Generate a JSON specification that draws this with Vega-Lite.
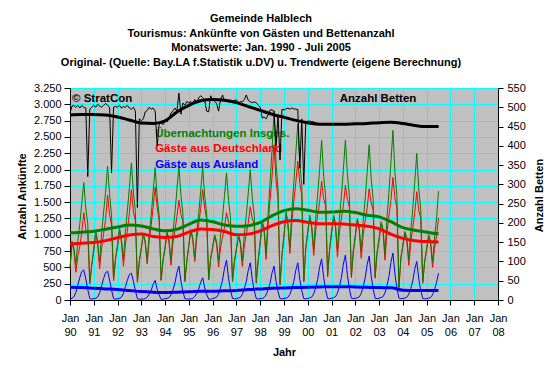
{
"$schema":"https://vega.github.io/schema/vega-lite/v6.json",
"width":428,"height":212,
"autosize":{"type":"none"},
"padding":{"left":70,"top":88,"right":62,"bottom":74},
"background":"white",
"config":{"font":"Liberation Sans","view":{"fill":"#C0C0C0","stroke":"#808080","strokeWidth":1},
"axis":{"labelFont":"Liberation Sans","titleFont":"Liberation Sans","labelFontSize":11,"labelColor":"black","titleColor":"black","titleFontSize":11,"titleFontWeight":"bold","domainColor":"black","tickColor":"black","gridColor":"#00FFFF","gridOpacity":1,"gridWidth":1}},
"title":{"text":["Gemeinde Halblech","Tourismus: Ankünfte von Gästen und Bettenanzahl","Monatswerte: Jan. 1990 - Juli 2005","Original- (Quelle: Bay.LA f.Statistik u.DV) u. Trendwerte (eigene Berechnung)"],"font":"Liberation Sans","fontSize":11,"fontWeight":"bold","color":"black","lineHeight":14.7,"anchor":"middle","frame":"group","dx":-23,"offset":14},
"datasets":{
"m":[
{"d":"1990-01","g":500,"r":477,"b":23,"k":485},{"d":"1990-02","g":900,"r":872,"b":28,"k":503},{"d":"1990-03","g":810,"r":764,"b":46,"k":505},{"d":"1990-04","g":540,"r":425,"b":115,"k":500},{"d":"1990-05","g":900,"r":670,"b":230,"k":505},{"d":"1990-06","g":1170,"r":825,"b":345,"k":498},{"d":"1990-07","g":1480,"r":1043,"b":437,"k":505},{"d":"1990-08","g":1800,"r":1340,"b":460,"k":500},{"d":"1990-09","g":1400,"r":1078,"b":322,"k":498},{"d":"1990-10","g":1170,"r":1009,"b":161,"k":320},{"d":"1990-11","g":270,"r":247,"b":23,"k":495},{"d":"1990-12","g":540,"r":526,"b":14,"k":500},
{"d":"1991-01","g":780,"r":758,"b":22,"k":505},{"d":"1991-02","g":1060,"r":1034,"b":26,"k":500},{"d":"1991-03","g":900,"r":856,"b":44,"k":508},{"d":"1991-04","g":590,"r":480,"b":110,"k":503},{"d":"1991-05","g":1010,"r":790,"b":220,"k":500},{"d":"1991-06","g":1350,"r":1020,"b":330,"k":505},{"d":"1991-07","g":1650,"r":1232,"b":418,"k":510},{"d":"1991-08","g":2050,"r":1610,"b":440,"k":505},{"d":"1991-09","g":1620,"r":1312,"b":308,"k":500},{"d":"1991-10","g":1300,"r":1146,"b":154,"k":330},{"d":"1991-11","g":320,"r":298,"b":22,"k":500},{"d":"1991-12","g":640,"r":627,"b":13,"k":502},
{"d":"1992-01","g":840,"r":820,"b":20,"k":500},{"d":"1992-02","g":1100,"r":1075,"b":25,"k":505},{"d":"1992-03","g":930,"r":889,"b":41,"k":498},{"d":"1992-04","g":620,"r":518,"b":102,"k":502},{"d":"1992-05","g":1060,"r":855,"b":205,"k":500},{"d":"1992-06","g":1380,"r":1072,"b":308,"k":505},{"d":"1992-07","g":1720,"r":1330,"b":390,"k":498},{"d":"1992-08","g":2100,"r":1690,"b":410,"k":495},{"d":"1992-09","g":1640,"r":1353,"b":287,"k":500},{"d":"1992-10","g":1360,"r":1217,"b":143,"k":490},{"d":"1992-11","g":290,"r":270,"b":20,"k":240},{"d":"1992-12","g":600,"r":588,"b":12,"k":470},
{"d":"1993-01","g":800,"r":788,"b":12,"k":465},{"d":"1993-02","g":1020,"r":1005,"b":15,"k":470},{"d":"1993-03","g":900,"r":879,"b":21,"k":488},{"d":"1993-04","g":600,"r":555,"b":45,"k":492},{"d":"1993-05","g":1000,"r":910,"b":90,"k":500},{"d":"1993-06","g":1300,"r":1150,"b":150,"k":495},{"d":"1993-07","g":1660,"r":1420,"b":240,"k":498},{"d":"1993-08","g":2030,"r":1730,"b":300,"k":490},{"d":"1993-09","g":1580,"r":1415,"b":165,"k":400},{"d":"1993-10","g":1300,"r":1225,"b":75,"k":455},{"d":"1993-11","g":310,"r":298,"b":12,"k":460},{"d":"1993-12","g":620,"r":611,"b":9,"k":455},
{"d":"1994-01","g":820,"r":799,"b":21,"k":465},{"d":"1994-02","g":1040,"r":1014,"b":26,"k":462},{"d":"1994-03","g":920,"r":884,"b":36,"k":472},{"d":"1994-04","g":610,"r":532,"b":78,"k":485},{"d":"1994-05","g":1030,"r":874,"b":156,"k":490},{"d":"1994-06","g":1330,"r":1070,"b":260,"k":498},{"d":"1994-07","g":1690,"r":1274,"b":416,"k":490},{"d":"1994-08","g":2050,"r":1530,"b":520,"k":537},{"d":"1994-09","g":1600,"r":1314,"b":286,"k":482},{"d":"1994-10","g":1330,"r":1200,"b":130,"k":511},{"d":"1994-11","g":300,"r":279,"b":21,"k":505},{"d":"1994-12","g":610,"r":594,"b":16,"k":515},
{"d":"1995-01","g":850,"r":836,"b":14,"k":511},{"d":"1995-02","g":1080,"r":1063,"b":17,"k":515},{"d":"1995-03","g":950,"r":926,"b":24,"k":510},{"d":"1995-04","g":640,"r":589,"b":51,"k":520},{"d":"1995-05","g":1040,"r":938,"b":102,"k":512},{"d":"1995-06","g":1330,"r":1160,"b":170,"k":524},{"d":"1995-07","g":1670,"r":1398,"b":272,"k":530},{"d":"1995-08","g":2030,"r":1690,"b":340,"k":525},{"d":"1995-09","g":1590,"r":1403,"b":187,"k":518},{"d":"1995-10","g":1330,"r":1245,"b":85,"k":490},{"d":"1995-11","g":320,"r":306,"b":14,"k":488},{"d":"1995-12","g":640,"r":630,"b":10,"k":530},
{"d":"1996-01","g":820,"r":796,"b":24,"k":520},{"d":"1996-02","g":1000,"r":969,"b":31,"k":515},{"d":"1996-03","g":900,"r":857,"b":43,"k":510},{"d":"1996-04","g":600,"r":508,"b":92,"k":490},{"d":"1996-05","g":980,"r":797,"b":183,"k":520},{"d":"1996-06","g":1270,"r":965,"b":305,"k":532},{"d":"1996-07","g":1600,"r":1112,"b":488,"k":516},{"d":"1996-08","g":1950,"r":1340,"b":610,"k":518},{"d":"1996-09","g":1530,"r":1194,"b":336,"k":514},{"d":"1996-10","g":1270,"r":1117,"b":153,"k":519},{"d":"1996-11","g":300,"r":276,"b":24,"k":515},{"d":"1996-12","g":600,"r":582,"b":18,"k":518},
{"d":"1997-01","g":800,"r":777,"b":23,"k":519},{"d":"1997-02","g":1000,"r":971,"b":29,"k":511},{"d":"1997-03","g":900,"r":860,"b":40,"k":515},{"d":"1997-04","g":600,"r":514,"b":86,"k":514},{"d":"1997-05","g":1000,"r":829,"b":171,"k":520},{"d":"1997-06","g":1300,"r":1015,"b":285,"k":532},{"d":"1997-07","g":1640,"r":1184,"b":456,"k":518},{"d":"1997-08","g":2000,"r":1430,"b":570,"k":514},{"d":"1997-09","g":1560,"r":1246,"b":314,"k":512},{"d":"1997-10","g":1300,"r":1157,"b":143,"k":514},{"d":"1997-11","g":280,"r":257,"b":23,"k":512},{"d":"1997-12","g":620,"r":603,"b":17,"k":505},
{"d":"1998-01","g":900,"r":879,"b":21,"k":500},{"d":"1998-02","g":1200,"r":1174,"b":26,"k":472},{"d":"1998-03","g":1100,"r":1064,"b":36,"k":475},{"d":"1998-04","g":700,"r":622,"b":78,"k":470},{"d":"1998-05","g":1300,"r":1144,"b":156,"k":480},{"d":"1998-06","g":1800,"r":1540,"b":260,"k":493},{"d":"1998-07","g":2300,"r":1884,"b":416,"k":493},{"d":"1998-08","g":2900,"r":2380,"b":520,"k":490},{"d":"1998-09","g":2100,"r":1814,"b":286,"k":400},{"d":"1998-10","g":1700,"r":1570,"b":130,"k":480},{"d":"1998-11","g":250,"r":229,"b":21,"k":363},{"d":"1998-12","g":700,"r":684,"b":16,"k":495},
{"d":"1999-01","g":1000,"r":977,"b":23,"k":493},{"d":"1999-02","g":1350,"r":1321,"b":29,"k":496},{"d":"1999-03","g":1200,"r":1160,"b":40,"k":498},{"d":"1999-04","g":800,"r":714,"b":86,"k":495},{"d":"1999-05","g":1350,"r":1179,"b":171,"k":498},{"d":"1999-06","g":1800,"r":1515,"b":285,"k":496},{"d":"1999-07","g":2250,"r":1794,"b":456,"k":495},{"d":"1999-08","g":2700,"r":2130,"b":570,"k":494},{"d":"1999-09","g":2100,"r":1786,"b":314,"k":342},{"d":"1999-10","g":1750,"r":1607,"b":143,"k":470},{"d":"1999-11","g":300,"r":277,"b":23,"k":300},{"d":"1999-12","g":800,"r":783,"b":17,"k":462},
{"d":"2000-01","g":1050,"r":1025,"b":25,"k":464},{"d":"2000-02","g":1300,"r":1268,"b":32,"k":464},{"d":"2000-03","g":1150,"r":1106,"b":44,"k":463},{"d":"2000-04","g":780,"r":685,"b":95,"k":462},{"d":"2000-05","g":1250,"r":1061,"b":189,"k":460},{"d":"2000-06","g":1620,"r":1305,"b":315,"k":458},{"d":"2000-07","g":2000,"r":1496,"b":504,"k":457},{"d":"2000-08","g":2450,"r":1820,"b":630,"k":456},{"d":"2000-09","g":1900,"r":1553,"b":347,"k":456},{"d":"2000-10","g":1600,"r":1442,"b":158,"k":456},{"d":"2000-11","g":380,"r":355,"b":25,"k":456},{"d":"2000-12","g":780,"r":761,"b":19,"k":456},
{"d":"2001-01","g":1050,"r":1022,"b":28,"k":456},{"d":"2001-02","g":1300,"r":1265,"b":35,"k":456},{"d":"2001-03","g":1180,"r":1132,"b":48,"k":456},{"d":"2001-04","g":760,"r":656,"b":104,"k":456},{"d":"2001-05","g":1250,"r":1043,"b":207,"k":456},{"d":"2001-06","g":1600,"r":1255,"b":345,"k":456},{"d":"2001-07","g":2000,"r":1448,"b":552,"k":456},{"d":"2001-08","g":2450,"r":1760,"b":690,"k":456},{"d":"2001-09","g":1920,"r":1540,"b":380,"k":456},{"d":"2001-10","g":1600,"r":1427,"b":173,"k":456},{"d":"2001-11","g":370,"r":342,"b":28,"k":456},{"d":"2001-12","g":760,"r":739,"b":21,"k":456},
{"d":"2002-01","g":1000,"r":973,"b":27,"k":457},{"d":"2002-02","g":1250,"r":1216,"b":34,"k":457},{"d":"2002-03","g":1120,"r":1073,"b":47,"k":457},{"d":"2002-04","g":740,"r":639,"b":101,"k":457},{"d":"2002-05","g":1200,"r":997,"b":203,"k":457},{"d":"2002-06","g":1550,"r":1212,"b":338,"k":458},{"d":"2002-07","g":1950,"r":1410,"b":540,"k":458},{"d":"2002-08","g":2380,"r":1705,"b":675,"k":458},{"d":"2002-09","g":1860,"r":1489,"b":371,"k":458},{"d":"2002-10","g":1550,"r":1381,"b":169,"k":459},{"d":"2002-11","g":360,"r":333,"b":27,"k":459},{"d":"2002-12","g":740,"r":720,"b":20,"k":459},
{"d":"2003-01","g":950,"r":921,"b":29,"k":460},{"d":"2003-02","g":1200,"r":1164,"b":36,"k":460},{"d":"2003-03","g":1100,"r":1050,"b":50,"k":460},{"d":"2003-04","g":720,"r":612,"b":108,"k":461},{"d":"2003-05","g":1250,"r":1034,"b":216,"k":461},{"d":"2003-06","g":1650,"r":1290,"b":360,"k":462},{"d":"2003-07","g":2100,"r":1524,"b":576,"k":462},{"d":"2003-08","g":2600,"r":1880,"b":720,"k":461},{"d":"2003-09","g":1950,"r":1554,"b":396,"k":460},{"d":"2003-10","g":1600,"r":1420,"b":180,"k":460},{"d":"2003-11","g":200,"r":171,"b":29,"k":459},{"d":"2003-12","g":650,"r":628,"b":22,"k":459},
{"d":"2004-01","g":850,"r":826,"b":24,"k":458},{"d":"2004-02","g":1050,"r":1020,"b":30,"k":457},{"d":"2004-03","g":950,"r":909,"b":41,"k":456},{"d":"2004-04","g":620,"r":531,"b":89,"k":455},{"d":"2004-05","g":1050,"r":873,"b":177,"k":454},{"d":"2004-06","g":1400,"r":1105,"b":295,"k":453},{"d":"2004-07","g":1800,"r":1328,"b":472,"k":453},{"d":"2004-08","g":2250,"r":1660,"b":590,"k":452},{"d":"2004-09","g":1700,"r":1375,"b":325,"k":452},{"d":"2004-10","g":1400,"r":1252,"b":148,"k":451},{"d":"2004-11","g":280,"r":256,"b":24,"k":451},{"d":"2004-12","g":600,"r":582,"b":18,"k":450},
{"d":"2005-01","g":800,"r":778,"b":22,"k":450},{"d":"2005-02","g":1000,"r":972,"b":28,"k":450},{"d":"2005-03","g":900,"r":862,"b":38,"k":450},{"d":"2005-04","g":580,"r":500,"b":80,"k":450},{"d":"2005-05","g":950,"r":790,"b":160,"k":450},{"d":"2005-06","g":1250,"r":980,"b":270,"k":450},{"d":"2005-07","g":1670,"r":1260,"b":410,"k":450}
],
"t":[
{"d":"1990-01","g":1030,"r":860,"b":195,"k":480},{"d":"1990-07","g":1040,"r":870,"b":190,"k":481},{"d":"1991-01","g":1055,"r":880,"b":180,"k":481},{"d":"1991-07","g":1085,"r":910,"b":170,"k":480},
{"d":"1992-01","g":1120,"r":955,"b":160,"k":475},{"d":"1992-07","g":1150,"r":995,"b":145,"k":467},{"d":"1993-01","g":1135,"r":1010,"b":130,"k":459},{"d":"1993-07","g":1090,"r":975,"b":120,"k":458},
{"d":"1994-01","g":1060,"r":960,"b":115,"k":465},{"d":"1994-07","g":1085,"r":975,"b":120,"k":488},{"d":"1995-01","g":1160,"r":1040,"b":125,"k":505},{"d":"1995-07","g":1225,"r":1090,"b":135,"k":517},
{"d":"1996-01","g":1200,"r":1080,"b":135,"k":520},{"d":"1996-07","g":1150,"r":1050,"b":140,"k":518},{"d":"1997-01","g":1130,"r":1000,"b":145,"k":512},{"d":"1997-07","g":1140,"r":1010,"b":160,"k":502},
{"d":"1998-01","g":1190,"r":1060,"b":170,"k":492},{"d":"1998-07","g":1290,"r":1140,"b":180,"k":482},{"d":"1999-01","g":1370,"r":1200,"b":185,"k":474},{"d":"1999-07","g":1400,"r":1220,"b":190,"k":466},
{"d":"2000-01","g":1375,"r":1190,"b":195,"k":460},{"d":"2000-07","g":1345,"r":1170,"b":200,"k":456},{"d":"2001-01","g":1350,"r":1170,"b":205,"k":456},{"d":"2001-07","g":1360,"r":1165,"b":205,"k":456},
{"d":"2002-01","g":1340,"r":1150,"b":200,"k":457},{"d":"2002-07","g":1300,"r":1130,"b":195,"k":458},{"d":"2003-01","g":1275,"r":1090,"b":190,"k":460},{"d":"2003-07","g":1200,"r":1010,"b":188,"k":461},
{"d":"2004-01","g":1110,"r":945,"b":150,"k":458},{"d":"2004-07","g":1070,"r":910,"b":145,"k":453},{"d":"2005-01","g":1040,"r":895,"b":145,"k":450},{"d":"2005-07","g":1015,"r":890,"b":145,"k":450}
]},
"layer":[
{"layer":[
{"data":{"name":"m"},"mark":{"type":"line","color":"#FF0000","strokeWidth":1},"encoding":{
"x":{"field":"d","type":"temporal","scale":{"type":"utc","domain":[631152000000,1199145600000]},"axis":{"orient":"bottom","tickCount":{"interval":"year","step":1},"labelExpr":"['Jan', utcFormat(datum.value, '%y')]","grid":true,"tickSize":5,"labelPadding":7,"labelLineHeight":14,"labelFlush":false,"labelOverlap":false,"labelAlign":"center","labelBaseline":"top","title":"Jahr","titleBaseline":"middle","titleY":52}},
"y":{"field":"r","type":"quantitative","scale":{"domain":[0,3250],"nice":false},"axis":{"orient":"left","values":[0,250,500,750,1000,1250,1500,1750,2000,2250,2500,2750,3000,3250],"labelExpr":"replace(format(datum.value, ','), ',', '.')","grid":true,"tickSize":6,"labelPadding":3,"labelFlush":false,"labelOverlap":false,"title":"Anzahl Ankünfte","titleX":-48,"titleY":108,"titleAngle":270,"titleBaseline":"middle","titleAlign":"center"}}}},
{"data":{"name":"m"},"mark":{"type":"line","color":"#008000","strokeWidth":1},"encoding":{
"x":{"field":"d","type":"temporal","scale":{"type":"utc","domain":[631152000000,1199145600000]},"axis":{"orient":"bottom","tickCount":{"interval":"year","step":1},"labelExpr":"['Jan', utcFormat(datum.value, '%y')]","grid":true,"tickSize":5,"labelPadding":7,"labelLineHeight":14,"labelFlush":false,"labelOverlap":false,"labelAlign":"center","labelBaseline":"top","title":"Jahr","titleBaseline":"middle","titleY":52}},
"y":{"field":"g","type":"quantitative","scale":{"domain":[0,3250],"nice":false},"axis":{"orient":"left","values":[0,250,500,750,1000,1250,1500,1750,2000,2250,2500,2750,3000,3250],"labelExpr":"replace(format(datum.value, ','), ',', '.')","grid":true,"tickSize":6,"labelPadding":3,"labelFlush":false,"labelOverlap":false,"title":"Anzahl Ankünfte","titleX":-48,"titleY":108,"titleAngle":270,"titleBaseline":"middle","titleAlign":"center"}}}},
{"data":{"name":"m"},"mark":{"type":"line","color":"#0000FF","strokeWidth":1},"encoding":{
"x":{"field":"d","type":"temporal","scale":{"type":"utc","domain":[631152000000,1199145600000]},"axis":{"orient":"bottom","tickCount":{"interval":"year","step":1},"labelExpr":"['Jan', utcFormat(datum.value, '%y')]","grid":true,"tickSize":5,"labelPadding":7,"labelLineHeight":14,"labelFlush":false,"labelOverlap":false,"labelAlign":"center","labelBaseline":"top","title":"Jahr","titleBaseline":"middle","titleY":52}},
"y":{"field":"b","type":"quantitative","scale":{"domain":[0,3250],"nice":false},"axis":{"orient":"left","values":[0,250,500,750,1000,1250,1500,1750,2000,2250,2500,2750,3000,3250],"labelExpr":"replace(format(datum.value, ','), ',', '.')","grid":true,"tickSize":6,"labelPadding":3,"labelFlush":false,"labelOverlap":false,"title":"Anzahl Ankünfte","titleX":-48,"titleY":108,"titleAngle":270,"titleBaseline":"middle","titleAlign":"center"}}}},
{"data":{"name":"t"},"mark":{"type":"line","color":"#FF0000","strokeWidth":3,"interpolate":"monotone"},"encoding":{
"x":{"field":"d","type":"temporal","scale":{"type":"utc","domain":[631152000000,1199145600000]},"axis":{"orient":"bottom","tickCount":{"interval":"year","step":1},"labelExpr":"['Jan', utcFormat(datum.value, '%y')]","grid":true,"tickSize":5,"labelPadding":7,"labelLineHeight":14,"labelFlush":false,"labelOverlap":false,"labelAlign":"center","labelBaseline":"top","title":"Jahr","titleBaseline":"middle","titleY":52}},
"y":{"field":"r","type":"quantitative","scale":{"domain":[0,3250],"nice":false},"axis":{"orient":"left","values":[0,250,500,750,1000,1250,1500,1750,2000,2250,2500,2750,3000,3250],"labelExpr":"replace(format(datum.value, ','), ',', '.')","grid":true,"tickSize":6,"labelPadding":3,"labelFlush":false,"labelOverlap":false,"title":"Anzahl Ankünfte","titleX":-48,"titleY":108,"titleAngle":270,"titleBaseline":"middle","titleAlign":"center"}}}},
{"data":{"name":"t"},"mark":{"type":"line","color":"#008000","strokeWidth":3,"interpolate":"monotone"},"encoding":{
"x":{"field":"d","type":"temporal","scale":{"type":"utc","domain":[631152000000,1199145600000]},"axis":{"orient":"bottom","tickCount":{"interval":"year","step":1},"labelExpr":"['Jan', utcFormat(datum.value, '%y')]","grid":true,"tickSize":5,"labelPadding":7,"labelLineHeight":14,"labelFlush":false,"labelOverlap":false,"labelAlign":"center","labelBaseline":"top","title":"Jahr","titleBaseline":"middle","titleY":52}},
"y":{"field":"g","type":"quantitative","scale":{"domain":[0,3250],"nice":false},"axis":{"orient":"left","values":[0,250,500,750,1000,1250,1500,1750,2000,2250,2500,2750,3000,3250],"labelExpr":"replace(format(datum.value, ','), ',', '.')","grid":true,"tickSize":6,"labelPadding":3,"labelFlush":false,"labelOverlap":false,"title":"Anzahl Ankünfte","titleX":-48,"titleY":108,"titleAngle":270,"titleBaseline":"middle","titleAlign":"center"}}}},
{"data":{"name":"t"},"mark":{"type":"line","color":"#0000FF","strokeWidth":3,"interpolate":"monotone"},"encoding":{
"x":{"field":"d","type":"temporal","scale":{"type":"utc","domain":[631152000000,1199145600000]},"axis":{"orient":"bottom","tickCount":{"interval":"year","step":1},"labelExpr":"['Jan', utcFormat(datum.value, '%y')]","grid":true,"tickSize":5,"labelPadding":7,"labelLineHeight":14,"labelFlush":false,"labelOverlap":false,"labelAlign":"center","labelBaseline":"top","title":"Jahr","titleBaseline":"middle","titleY":52}},
"y":{"field":"b","type":"quantitative","scale":{"domain":[0,3250],"nice":false},"axis":{"orient":"left","values":[0,250,500,750,1000,1250,1500,1750,2000,2250,2500,2750,3000,3250],"labelExpr":"replace(format(datum.value, ','), ',', '.')","grid":true,"tickSize":6,"labelPadding":3,"labelFlush":false,"labelOverlap":false,"title":"Anzahl Ankünfte","titleX":-48,"titleY":108,"titleAngle":270,"titleBaseline":"middle","titleAlign":"center"}}}},
{"data":{"values":[{}]},"mark":{"type":"text","align":"left","baseline":"middle","fontSize":11.5,"fontWeight":"bold","color":"black"},"encoding":{
"x":{"datum":633830400000,"type":"temporal","axis":{"orient":"bottom","tickCount":{"interval":"year","step":1},"labelExpr":"['Jan', utcFormat(datum.value, '%y')]","grid":true,"tickSize":5,"labelPadding":7,"labelLineHeight":14,"labelFlush":false,"labelOverlap":false,"labelAlign":"center","labelBaseline":"top","title":"Jahr","titleBaseline":"middle","titleY":52}},
"y":{"datum":3081,"type":"quantitative","axis":{"orient":"left","values":[0,250,500,750,1000,1250,1500,1750,2000,2250,2500,2750,3000,3250],"labelExpr":"replace(format(datum.value, ','), ',', '.')","grid":true,"tickSize":6,"labelPadding":3,"labelFlush":false,"labelOverlap":false,"title":"Anzahl Ankünfte","titleX":-48,"titleY":108,"titleAngle":270,"titleBaseline":"middle","titleAlign":"center"}},"text":{"value":"© StratCon"}}},
{"data":{"values":[{}]},"mark":{"type":"text","align":"left","baseline":"middle","fontSize":11.5,"fontWeight":"bold","color":"black"},"encoding":{
"x":{"datum":989020800000,"type":"temporal","axis":{"orient":"bottom","tickCount":{"interval":"year","step":1},"labelExpr":"['Jan', utcFormat(datum.value, '%y')]","grid":true,"tickSize":5,"labelPadding":7,"labelLineHeight":14,"labelFlush":false,"labelOverlap":false,"labelAlign":"center","labelBaseline":"top","title":"Jahr","titleBaseline":"middle","titleY":52}},
"y":{"datum":3081,"type":"quantitative","axis":{"orient":"left","values":[0,250,500,750,1000,1250,1500,1750,2000,2250,2500,2750,3000,3250],"labelExpr":"replace(format(datum.value, ','), ',', '.')","grid":true,"tickSize":6,"labelPadding":3,"labelFlush":false,"labelOverlap":false,"title":"Anzahl Ankünfte","titleX":-48,"titleY":108,"titleAngle":270,"titleBaseline":"middle","titleAlign":"center"}},"text":{"value":"Anzahl Betten"}}},
{"data":{"values":[{}]},"mark":{"type":"text","align":"left","baseline":"middle","fontSize":11.5,"fontWeight":"bold","color":"#008000"},"encoding":{
"x":{"datum":744163200000,"type":"temporal","axis":{"orient":"bottom","tickCount":{"interval":"year","step":1},"labelExpr":"['Jan', utcFormat(datum.value, '%y')]","grid":true,"tickSize":5,"labelPadding":7,"labelLineHeight":14,"labelFlush":false,"labelOverlap":false,"labelAlign":"center","labelBaseline":"top","title":"Jahr","titleBaseline":"middle","titleY":52}},
"y":{"datum":2545,"type":"quantitative","axis":{"orient":"left","values":[0,250,500,750,1000,1250,1500,1750,2000,2250,2500,2750,3000,3250],"labelExpr":"replace(format(datum.value, ','), ',', '.')","grid":true,"tickSize":6,"labelPadding":3,"labelFlush":false,"labelOverlap":false,"title":"Anzahl Ankünfte","titleX":-48,"titleY":108,"titleAngle":270,"titleBaseline":"middle","titleAlign":"center"}},"text":{"value":"Übernachtungen Insges."}}},
{"data":{"values":[{}]},"mark":{"type":"text","align":"left","baseline":"middle","fontSize":11.5,"fontWeight":"bold","color":"#FF0000"},"encoding":{
"x":{"datum":744163200000,"type":"temporal","axis":{"orient":"bottom","tickCount":{"interval":"year","step":1},"labelExpr":"['Jan', utcFormat(datum.value, '%y')]","grid":true,"tickSize":5,"labelPadding":7,"labelLineHeight":14,"labelFlush":false,"labelOverlap":false,"labelAlign":"center","labelBaseline":"top","title":"Jahr","titleBaseline":"middle","titleY":52}},
"y":{"datum":2310,"type":"quantitative","axis":{"orient":"left","values":[0,250,500,750,1000,1250,1500,1750,2000,2250,2500,2750,3000,3250],"labelExpr":"replace(format(datum.value, ','), ',', '.')","grid":true,"tickSize":6,"labelPadding":3,"labelFlush":false,"labelOverlap":false,"title":"Anzahl Ankünfte","titleX":-48,"titleY":108,"titleAngle":270,"titleBaseline":"middle","titleAlign":"center"}},"text":{"value":"Gäste aus Deutschland"}}},
{"data":{"values":[{}]},"mark":{"type":"text","align":"left","baseline":"middle","fontSize":11.5,"fontWeight":"bold","color":"#0000FF"},"encoding":{
"x":{"datum":744163200000,"type":"temporal","axis":{"orient":"bottom","tickCount":{"interval":"year","step":1},"labelExpr":"['Jan', utcFormat(datum.value, '%y')]","grid":true,"tickSize":5,"labelPadding":7,"labelLineHeight":14,"labelFlush":false,"labelOverlap":false,"labelAlign":"center","labelBaseline":"top","title":"Jahr","titleBaseline":"middle","titleY":52}},
"y":{"datum":2070,"type":"quantitative","axis":{"orient":"left","values":[0,250,500,750,1000,1250,1500,1750,2000,2250,2500,2750,3000,3250],"labelExpr":"replace(format(datum.value, ','), ',', '.')","grid":true,"tickSize":6,"labelPadding":3,"labelFlush":false,"labelOverlap":false,"title":"Anzahl Ankünfte","titleX":-48,"titleY":108,"titleAngle":270,"titleBaseline":"middle","titleAlign":"center"}},"text":{"value":"Gäste aus Ausland"}}}
]},
{"layer":[
{"data":{"name":"m"},"mark":{"type":"line","color":"black","strokeWidth":1},"encoding":{
"x":{"field":"d","type":"temporal","scale":{"type":"utc","domain":[631152000000,1199145600000]},"axis":{"orient":"bottom","tickCount":{"interval":"year","step":1},"labelExpr":"['Jan', utcFormat(datum.value, '%y')]","grid":true,"tickSize":5,"labelPadding":7,"labelLineHeight":14,"labelFlush":false,"labelOverlap":false,"labelAlign":"center","labelBaseline":"top","title":"Jahr","titleBaseline":"middle","titleY":52}},
"y":{"field":"k","type":"quantitative","scale":{"domain":[0,550],"nice":false},"axis":{"orient":"right","values":[0,50,100,150,200,250,300,350,400,450,500,550],"grid":false,"tickSize":5,"labelPadding":4,"labelFlush":false,"labelOverlap":false,"title":"Anzahl Betten","titleX":41,"titleY":107,"titleAngle":270,"titleBaseline":"middle","titleAlign":"center"}}}},
{"data":{"name":"t"},"mark":{"type":"line","color":"black","strokeWidth":3,"interpolate":"monotone"},"encoding":{
"x":{"field":"d","type":"temporal","scale":{"type":"utc","domain":[631152000000,1199145600000]},"axis":{"orient":"bottom","tickCount":{"interval":"year","step":1},"labelExpr":"['Jan', utcFormat(datum.value, '%y')]","grid":true,"tickSize":5,"labelPadding":7,"labelLineHeight":14,"labelFlush":false,"labelOverlap":false,"labelAlign":"center","labelBaseline":"top","title":"Jahr","titleBaseline":"middle","titleY":52}},
"y":{"field":"k","type":"quantitative","scale":{"domain":[0,550],"nice":false},"axis":{"orient":"right","values":[0,50,100,150,200,250,300,350,400,450,500,550],"grid":false,"tickSize":5,"labelPadding":4,"labelFlush":false,"labelOverlap":false,"title":"Anzahl Betten","titleX":41,"titleY":107,"titleAngle":270,"titleBaseline":"middle","titleAlign":"center"}}}}
]}
],
"resolve":{"scale":{"y":"independent"}}
}
